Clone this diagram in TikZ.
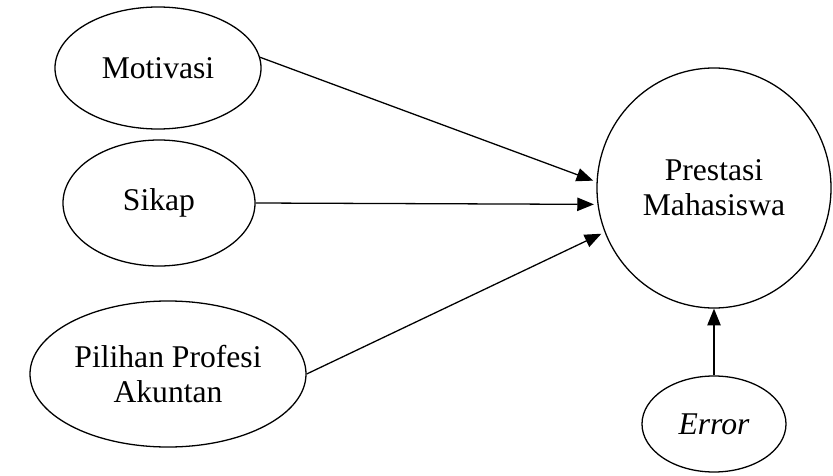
\documentclass[tikz,border=0pt]{standalone}
\usepackage{fontspec}
\setmainfont{Liberation Serif}
\usetikzlibrary{shapes.geometric,arrows.meta}

\begin{document}
\begin{tikzpicture}
        [x=0.03cm, y=-0.03cm, >={Triangle[length=5mm, width=4mm]},
        var/.style={ellipse, draw=black, line width=1.1pt, inner sep=0pt, align=center,
            font=\fontsize{27}{30}\selectfont},
        path/.style={->, line width=1.1pt, shorten >=3pt}]

        \useasboundingbox (0, 0) rectangle (833, 476);

        \node[var, minimum width=6.18cm, minimum height=3.66cm] (motivasi) at (158, 68) {Motivasi};
        \node[var, minimum width=5.76cm, minimum height=3.78cm] (sikap) at (159, 203) {Sikap};
        \node[var, minimum width=8.28cm, minimum height=4.38cm] (profesi) at (168, 374) {Pilihan Profesi\\Akuntan};
        \node[var, minimum width=7.02cm, minimum height=7.2cm] (prestasi) at (714, 188) {Prestasi\\Mahasiswa};
        \node[var, minimum width=4.32cm, minimum height=2.88cm] (error) at (714, 424) {\itshape Error};

        \foreach \s/\t in {motivasi.6/prestasi.177, sikap.east/prestasi.188, profesi.east/prestasi.202}
        \draw[path] (\s) -- (\t);

        \draw[path, shorten >=0pt] (error) -- (prestasi);
    \end{tikzpicture}
\end{document}
